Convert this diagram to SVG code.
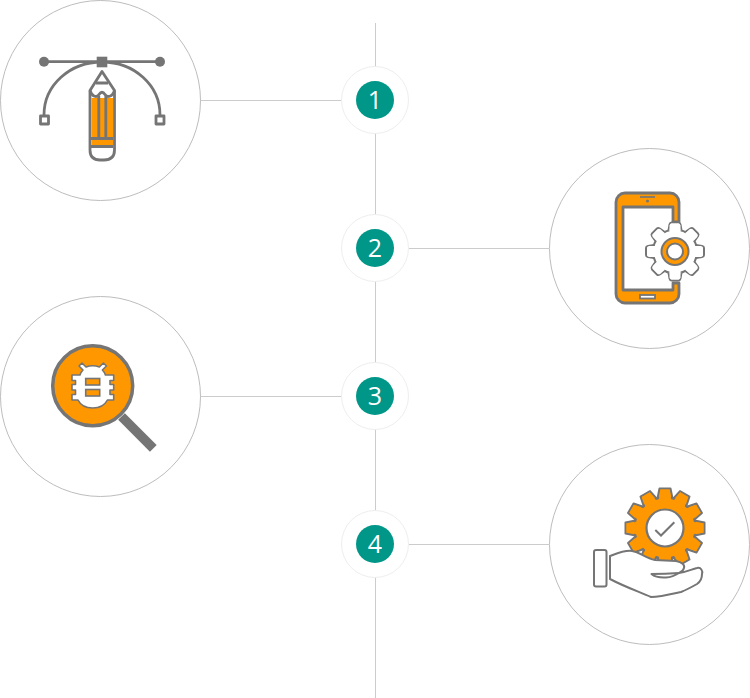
<svg xmlns="http://www.w3.org/2000/svg" xmlns:xlink="http://www.w3.org/1999/xlink" width="750" height="698" viewBox="0 0 750 698">
<style>
.big{fill:#fff;stroke:#bdbdbd;stroke-width:1}
.conn{stroke:#ccc;stroke-width:1;fill:none}
.halo{fill:#fff;stroke:#eee;stroke-width:1}
.dot{fill:#009688}
.num{font-family:"Open Sans",sans-serif;font-size:25px;fill:#fff;text-anchor:middle}
.g{stroke:#757575;stroke-width:2.800;stroke-linejoin:round;fill:none}
.o{fill:#ff9800}
.w{fill:#fff}
.gf{fill:#757575}
</style>
<defs>
<path id="t1" d="M-6.500,-21 L-5.500,-27 Q-5,-29 -3.500,-29 H3.500 Q5,-29 5.500,-27 L6.500,-21" fill="#fff" stroke="#757575" stroke-width="2"/>
<path id="t1f" d="M-5.500,-18 V-26 Q-5,-28 -3.500,-28 H3.500 Q5,-28 5.500,-26 V-18 Z" fill="#fff"/>
<path id="t2" d="M-7.500,-29.500 L-5.500,-39.500 H5.500 L7.500,-29.500" fill="#ff9800" stroke="#757575" stroke-width="2" stroke-linejoin="round"/>
<path id="t2f" d="M-6.600,-26 L-4.600,-38.500 H4.600 L6.600,-26 Z" fill="#ff9800"/>
</defs>
<g id="connectors">
<path class="conn" d="M375.500,23V698"/>
<path class="conn" d="M200,100.500H341M409,248.500H549M200,396.500H341M409,544.500H549"/>
</g>
<g id="step-1"><circle class="halo" cx="375" cy="100" r="33.500"/><circle class="dot" cx="375" cy="100" r="19"/><text class="num" x="375" y="109">1</text></g>
<g id="step-2"><circle class="halo" cx="375" cy="248" r="33.500"/><circle class="dot" cx="375" cy="248" r="19"/><text class="num" x="375" y="257">2</text></g>
<g id="step-3"><circle class="halo" cx="375" cy="396" r="33.500"/><circle class="dot" cx="375" cy="396" r="19"/><text class="num" x="375" y="405">3</text></g>
<g id="step-4"><circle class="halo" cx="375" cy="544" r="33.500"/><circle class="dot" cx="375" cy="544" r="19"/><text class="num" x="375" y="553">4</text></g>

<g id="icon-design">
<circle class="big" cx="100.500" cy="100.500" r="100"/>
<path class="g" d="M44,61.700H160M44,115C44,85 70,62 102,62C134,62 160,85 160,115"/>
<circle class="gf" cx="44" cy="61.700" r="5"/><circle class="gf" cx="160" cy="61.700" r="5"/>
<rect class="gf" x="96.700" y="56.700" width="10.600" height="10.600"/>
<rect class="w g" x="40.500" y="116" width="8" height="8"/><rect class="w g" x="156" y="116" width="8" height="8"/>
<path class="w g" d="M102,71.500L90,90.500V150Q90,160 100,160H104Q114.500,160 114.500,150V90.500Z"/>
<rect class="o" x="91.500" y="98" width="6.500" height="39"/><rect class="o" x="100" y="98" width="5" height="39"/><rect class="o" x="107" y="98" width="6" height="39"/>
<rect class="o" x="91.500" y="140" width="21.500" height="5.500"/>
<path class="g" d="M90,90.500C92,97 97,98 99,94.500Q102,90 105,94.500C107,98 112.500,97 114.500,90.500M98.800,96V138M105.800,96V138M91,138.500H113M91,146.500H113M96,83H108"/>
</g>

<g id="icon-mobile">
<circle class="big" cx="649.500" cy="248.500" r="100"/>
<path class="o g" d="M625,193H670A9,9 0 0 1 679,202V222H673V207H623V290H673V283H679V294A9,9 0 0 1 670,303H625A9,9 0 0 1 616,294V202A9,9 0 0 1 625,193Z"/>
<rect x="640" y="196" width="15" height="2" fill="#757575" opacity="0.85"/>
<circle class="gf" cx="647.500" cy="201" r="1.500"/>
<rect x="640" y="295" width="15" height="3.500" fill="#fff" stroke="#757575" stroke-width="1.800"/>
<circle cx="675" cy="251.500" r="22" fill="#fff" stroke="#757575" stroke-width="2"/>
<g transform="translate(675 251.500)">
<use xlink:href="#t1"/><use xlink:href="#t1" transform="rotate(45)"/><use xlink:href="#t1" transform="rotate(90)"/><use xlink:href="#t1" transform="rotate(135)"/><use xlink:href="#t1" transform="rotate(180)"/><use xlink:href="#t1" transform="rotate(225)"/><use xlink:href="#t1" transform="rotate(270)"/><use xlink:href="#t1" transform="rotate(315)"/>
<use xlink:href="#t1f"/><use xlink:href="#t1f" transform="rotate(45)"/><use xlink:href="#t1f" transform="rotate(90)"/><use xlink:href="#t1f" transform="rotate(135)"/><use xlink:href="#t1f" transform="rotate(180)"/><use xlink:href="#t1f" transform="rotate(225)"/><use xlink:href="#t1f" transform="rotate(270)"/><use xlink:href="#t1f" transform="rotate(315)"/>
<circle r="13.500" fill="#ff9800" stroke="#757575" stroke-width="2"/>
<circle r="8" fill="#fff" stroke="#757575" stroke-width="2"/>
</g>
</g>

<g id="icon-bug">
<circle class="big" cx="100.500" cy="396.500" r="100"/>
<path d="M121.500,416.500L153.300,448.300" stroke="#757575" stroke-width="9.500" fill="none"/>
<circle class="o" cx="92.700" cy="385.700" r="40" stroke="#757575" stroke-width="3.500"/>
<path class="w" stroke="#757575" stroke-width="1.600" stroke-linejoin="round" d="M86,367L82,363L79,366L83,370Q81,372 80,375H72V380.500H75.500V384.500H72V390H75.500V394.500H72V400H78Q82,408 92.700,408Q103.400,408 107.400,400H113.700V394.500H110V390H113.700V384.500H110V380.500H113.700V375H105.400Q104.400,372 102.400,370L106.400,366L103.400,363L99.400,367Q92.700,364.500 86,367Z"/>
<rect class="o" x="85.700" y="378.500" width="14" height="6.500" stroke="#757575" stroke-width="1.600"/>
<rect class="o" x="85.700" y="389.500" width="14" height="6.500" stroke="#757575" stroke-width="1.600"/>
</g>

<g id="icon-service">
<circle class="big" cx="649.500" cy="544.500" r="100"/>
<g transform="translate(665 528)">
<use xlink:href="#t2"/><use xlink:href="#t2" transform="rotate(30)"/><use xlink:href="#t2" transform="rotate(60)"/><use xlink:href="#t2" transform="rotate(90)"/><use xlink:href="#t2" transform="rotate(120)"/><use xlink:href="#t2" transform="rotate(150)"/><use xlink:href="#t2" transform="rotate(180)"/><use xlink:href="#t2" transform="rotate(210)"/><use xlink:href="#t2" transform="rotate(240)"/><use xlink:href="#t2" transform="rotate(270)"/><use xlink:href="#t2" transform="rotate(300)"/><use xlink:href="#t2" transform="rotate(330)"/>
<circle r="30.500" fill="#ff9800" stroke="#757575" stroke-width="2"/>
<use xlink:href="#t2f"/><use xlink:href="#t2f" transform="rotate(30)"/><use xlink:href="#t2f" transform="rotate(60)"/><use xlink:href="#t2f" transform="rotate(90)"/><use xlink:href="#t2f" transform="rotate(120)"/><use xlink:href="#t2f" transform="rotate(150)"/><use xlink:href="#t2f" transform="rotate(180)"/><use xlink:href="#t2f" transform="rotate(210)"/><use xlink:href="#t2f" transform="rotate(240)"/><use xlink:href="#t2f" transform="rotate(270)"/><use xlink:href="#t2f" transform="rotate(300)"/><use xlink:href="#t2f" transform="rotate(330)"/>
<circle r="18.500" fill="#fff" stroke="#757575" stroke-width="2.200"/>
</g>
<path d="M655.300,530L661,535.500L674.300,522.300" fill="none" stroke="#757575" stroke-width="2"/>
<path fill="#fff" stroke="#757575" stroke-width="2" stroke-linejoin="round" d="M610,556C618,553 625,550 632,551C640,552 645,558 655,560L676,561C682,562 685,565 684,568C683,571 682,572 679,573C687,572 692,569 697,568C701,567 703,571 702,574C702,578 700,582 697,584C690,588 686,590 681,592C672,594 660,597 651,597C640,592 625,587 610,579Z"/>
<path fill="#fff" stroke="#757575" stroke-width="2" stroke-linejoin="round" d="M679,573Q665,574 651.500,574Q656,578 666,577.500Q673,577 679,573Z"/>
<rect x="594" y="550" width="12.500" height="36.500" rx="2" fill="#fff" stroke="#757575" stroke-width="2"/>
</g>
</svg>
